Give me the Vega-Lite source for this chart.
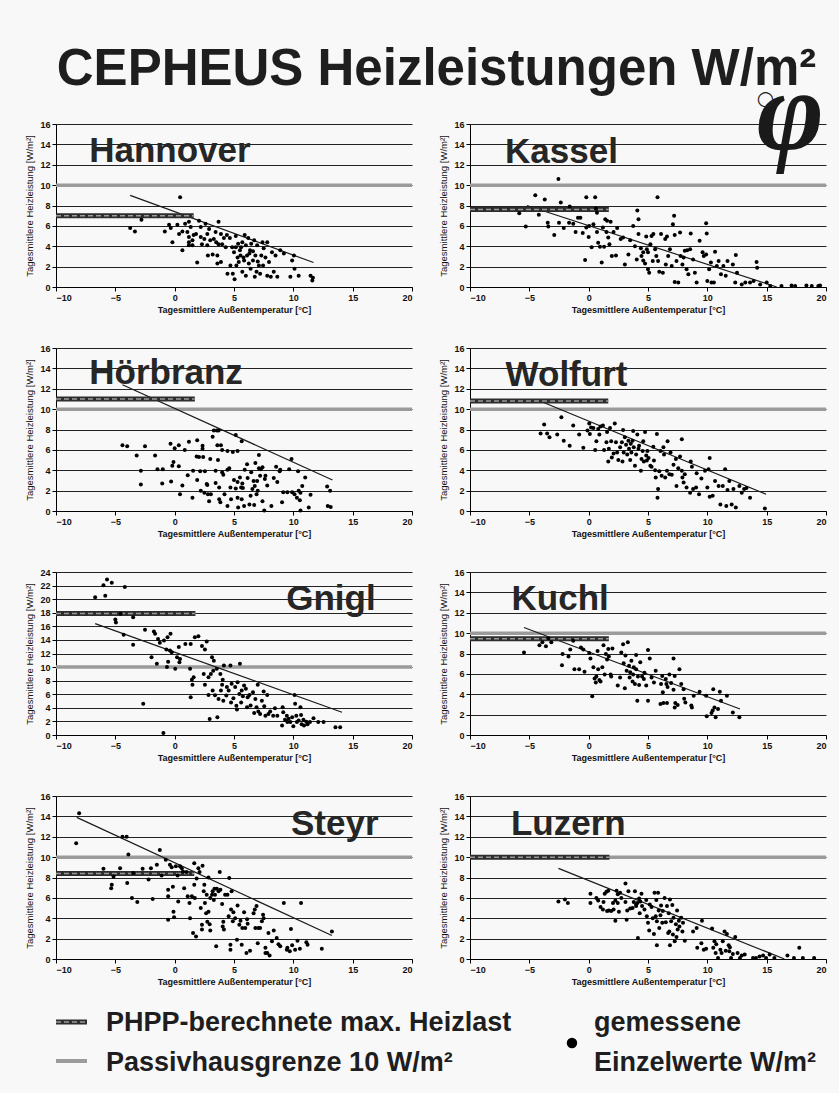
{
"$schema": "https://vega.github.io/schema/vega-lite/v6.json",
"background": "#f8f8f8",
"padding": {"left": 24, "top": 44, "right": 5, "bottom": 5},
"title": {"text": "CEPHEUS Heizleistungen W/m²", "fontSize": 51, "fontWeight": "bold", "font": "Liberation Sans", "anchor": "middle", "dx": 6, "color": "#1e1e1e", "offset": -38},
"config": {
  "font": "Liberation Sans",
  "view": {"stroke": null},
  "header": {"labels": false, "title": null},
  "axis": {"domainColor": "#000", "tickColor": "#000", "labelColor": "#111", "titleColor": "#111", "labelFontWeight": "bold", "labelFontSize": 9, "titleFontSize": 9, "tickSize": 4, "labelPadding": 2},
  "axisY": {"grid": true, "gridColor": "#222", "gridWidth": 1, "tickCount": 8, "titlePadding": 5, "titleFontWeight": "normal", "titleFontSize": 9.5},
  "axisX": {"grid": false, "titleFontWeight": "bold", "titlePadding": 3}
},
"datasets": {
"grid": [
{"s":"Hannover","r":1,"c":1},{"s":"Kassel","r":1,"c":2},{"s":"Hörbranz","r":2,"c":1},{"s":"Wolfurt","r":2,"c":2},
{"s":"Gnigl","r":3,"c":1},{"s":"Kuchl","r":3,"c":2},{"s":"Steyr","r":4,"c":1},{"s":"Luzern","r":4,"c":2}
],
"leg": [
{"k":"h","x":0,"x2":3.97,"y":66},{"k":"g","x":0,"x2":3.97,"y":27},{"k":"p","x":66.15,"y":45},
{"k":"t","x":6.41,"y":57,"n":"PHPP-berechnete max. Heizlast"},{"k":"t","x":6.41,"y":17,"n":"Passivhausgrenze 10 W/m²"},
{"k":"t","x":68.97,"y":57,"n":"gemessene"},{"k":"t","x":68.97,"y":17,"n":"Einzelwerte W/m²"}
],
"d": [
{"s":"Hannover","k":"d","t":0,"q":0},{"s":"Hannover","k":"d","t":0,"q":16},{"s":"Hannover","k":"g","q":10},
{"s":"Hannover","k":"r","t":-3.75,"q":9.0},{"s":"Hannover","k":"r","t":11.7,"q":2.4},
{"s":"Hannover","k":"h","t":-10,"t2":1.6,"q":7.0},
{"s":"Hannover","k":"l","t":-7.2,"q":12.25,"n":"Hannover"},
{"s":"Kassel","k":"d","t":0,"q":0},{"s":"Kassel","k":"d","t":0,"q":16},{"s":"Kassel","k":"g","q":10},
{"s":"Kassel","k":"r","t":-5.2,"q":8.0},{"s":"Kassel","k":"r","t":15.85,"q":0},
{"s":"Kassel","k":"h","t":-10,"t2":1.7,"q":7.6},
{"s":"Kassel","k":"l","t":-7.05,"q":12.2,"n":"Kassel"},
{"s":"Kassel","k":"f","t":17.0,"q":15.0,"n":"φ"},
{"s":"Kassel","k":"c","t":14.9,"q":15.0,"n":"○"},
{"s":"Hörbranz","k":"d","t":0,"q":0},{"s":"Hörbranz","k":"d","t":0,"q":16},{"s":"Hörbranz","k":"g","q":10},
{"s":"Hörbranz","k":"r","t":-4.4,"q":12.4},{"s":"Hörbranz","k":"r","t":13.3,"q":3.05},
{"s":"Hörbranz","k":"h","t":-10,"t2":1.7,"q":11.0},
{"s":"Hörbranz","k":"l","t":-7.2,"q":12.5,"n":"Hörbranz"},
{"s":"Wolfurt","k":"d","t":0,"q":0},{"s":"Wolfurt","k":"d","t":0,"q":16},{"s":"Wolfurt","k":"g","q":10},
{"s":"Wolfurt","k":"r","t":-3.9,"q":10.7},{"s":"Wolfurt","k":"r","t":14.95,"q":1.65},
{"s":"Wolfurt","k":"h","t":-10,"t2":1.65,"q":10.8},
{"s":"Wolfurt","k":"l","t":-7.0,"q":12.3,"n":"Wolfurt"},
{"s":"Gnigl","k":"d","t":0,"q":0},{"s":"Gnigl","k":"d","t":0,"q":24},{"s":"Gnigl","k":"g","q":10},
{"s":"Gnigl","k":"r","t":-6.7,"q":16.4},{"s":"Gnigl","k":"r","t":14.1,"q":3.35},
{"s":"Gnigl","k":"h","t":-10,"t2":1.75,"q":17.9},
{"s":"Gnigl","k":"l","t":9.4,"q":18.35,"n":"Gnigl"},
{"s":"Kuchl","k":"d","t":0,"q":0},{"s":"Kuchl","k":"d","t":0,"q":16},{"s":"Kuchl","k":"g","q":10},
{"s":"Kuchl","k":"r","t":-5.45,"q":10.55},{"s":"Kuchl","k":"r","t":12.75,"q":2.55},
{"s":"Kuchl","k":"h","t":-10,"t2":1.7,"q":9.45},
{"s":"Kuchl","k":"l","t":-6.5,"q":12.3,"n":"Kuchl"},
{"s":"Steyr","k":"d","t":0,"q":0},{"s":"Steyr","k":"d","t":0,"q":16},{"s":"Steyr","k":"g","q":10},
{"s":"Steyr","k":"r","t":-8.25,"q":13.9},{"s":"Steyr","k":"r","t":13.25,"q":2.3},
{"s":"Steyr","k":"h","t":-10,"t2":1.65,"q":8.4},
{"s":"Steyr","k":"l","t":9.8,"q":12.2,"n":"Steyr"},
{"s":"Luzern","k":"d","t":0,"q":0},{"s":"Luzern","k":"d","t":0,"q":16},{"s":"Luzern","k":"g","q":10},
{"s":"Luzern","k":"r","t":-2.55,"q":8.9},{"s":"Luzern","k":"r","t":16.5,"q":0},
{"s":"Luzern","k":"h","t":-10,"t2":1.75,"q":10.0},
{"s":"Luzern","k":"l","t":-6.55,"q":12.15,"n":"Luzern"},

{"s":"Hannover","k":"p","t":-3.75,"q":5.8},{"s":"Hannover","k":"p","t":-3.35,"q":5.45},{"s":"Hannover","k":"p","t":-2.8,"q":6.6},{"s":"Hannover","k":"p","t":-0.83,"q":5.45},{"s":"Hannover","k":"p","t":-0.47,"q":6.1},{"s":"Hannover","k":"p","t":-0.33,"q":5.8},{"s":"Hannover","k":"p","t":-0.19,"q":4.4},{"s":"Hannover","k":"p","t":0.46,"q":8.8},{"s":"Hannover","k":"p","t":0.23,"q":6.1},{"s":"Hannover","k":"p","t":0.37,"q":5.2},
{"s":"Hannover","k":"p","t":0.65,"q":5.45},{"s":"Hannover","k":"p","t":0.65,"q":3.6},{"s":"Hannover","k":"p","t":0.88,"q":6.2},{"s":"Hannover","k":"p","t":1.07,"q":5.4},{"s":"Hannover","k":"p","t":1.2,"q":6.4},{"s":"Hannover","k":"p","t":1.2,"q":4.9},{"s":"Hannover","k":"p","t":1.2,"q":4.4},{"s":"Hannover","k":"p","t":1.2,"q":4.1},{"s":"Hannover","k":"p","t":1.35,"q":5.9},{"s":"Hannover","k":"p","t":1.5,"q":4.6},
{"s":"Hannover","k":"p","t":1.5,"q":4.1},{"s":"Hannover","k":"p","t":1.6,"q":5.1},{"s":"Hannover","k":"p","t":1.9,"q":2.4},{"s":"Hannover","k":"p","t":1.8,"q":5.2},{"s":"Hannover","k":"p","t":2.05,"q":6.5},{"s":"Hannover","k":"p","t":2.2,"q":5.9},{"s":"Hannover","k":"p","t":2.2,"q":4.9},{"s":"Hannover","k":"p","t":2.3,"q":4.2},{"s":"Hannover","k":"p","t":2.6,"q":6.2},{"s":"Hannover","k":"p","t":2.5,"q":4.7},
{"s":"Hannover","k":"p","t":2.75,"q":4.1},{"s":"Hannover","k":"p","t":2.75,"q":5.2},{"s":"Hannover","k":"p","t":2.8,"q":3.1},{"s":"Hannover","k":"p","t":2.9,"q":5.7},{"s":"Hannover","k":"p","t":3.0,"q":4.6},{"s":"Hannover","k":"p","t":3.2,"q":3.2},{"s":"Hannover","k":"p","t":3.3,"q":4.7},{"s":"Hannover","k":"p","t":3.45,"q":5.4},{"s":"Hannover","k":"p","t":3.5,"q":4.4},{"s":"Hannover","k":"p","t":3.6,"q":3.1},
{"s":"Hannover","k":"p","t":3.6,"q":2.3},{"s":"Hannover","k":"p","t":3.7,"q":6.4},{"s":"Hannover","k":"p","t":3.7,"q":4.2},{"s":"Hannover","k":"p","t":3.9,"q":5.2},{"s":"Hannover","k":"p","t":3.9,"q":2.45},{"s":"Hannover","k":"p","t":4.0,"q":4.2},{"s":"Hannover","k":"p","t":4.15,"q":4.8},{"s":"Hannover","k":"p","t":4.4,"q":5.1},{"s":"Hannover","k":"p","t":4.45,"q":1.3},{"s":"Hannover","k":"p","t":4.65,"q":4.8},
{"s":"Hannover","k":"p","t":4.7,"q":2.1},{"s":"Hannover","k":"p","t":4.85,"q":3.9},{"s":"Hannover","k":"p","t":4.9,"q":1.3},{"s":"Hannover","k":"p","t":5.0,"q":3.4},{"s":"Hannover","k":"p","t":5.05,"q":0.75},{"s":"Hannover","k":"p","t":5.15,"q":5.0},{"s":"Hannover","k":"p","t":5.15,"q":3.9},{"s":"Hannover","k":"p","t":5.3,"q":2.9},{"s":"Hannover","k":"p","t":5.35,"q":4.25},{"s":"Hannover","k":"p","t":5.4,"q":2.45},
{"s":"Hannover","k":"p","t":5.5,"q":3.6},{"s":"Hannover","k":"p","t":5.55,"q":3.1},{"s":"Hannover","k":"p","t":5.7,"q":4.4},{"s":"Hannover","k":"p","t":5.7,"q":1.5},{"s":"Hannover","k":"p","t":5.85,"q":2.6},{"s":"Hannover","k":"p","t":5.9,"q":5.1},{"s":"Hannover","k":"p","t":6.0,"q":4.1},{"s":"Hannover","k":"p","t":6.0,"q":1.1},{"s":"Hannover","k":"p","t":6.1,"q":3.1},{"s":"Hannover","k":"p","t":6.2,"q":4.8},
{"s":"Hannover","k":"p","t":6.25,"q":2.3},{"s":"Hannover","k":"p","t":6.35,"q":3.6},{"s":"Hannover","k":"p","t":6.4,"q":1.8},{"s":"Hannover","k":"p","t":6.45,"q":4.25},{"s":"Hannover","k":"p","t":6.6,"q":2.6},{"s":"Hannover","k":"p","t":6.7,"q":4.6},{"s":"Hannover","k":"p","t":6.75,"q":1.0},{"s":"Hannover","k":"p","t":6.8,"q":3.1},{"s":"Hannover","k":"p","t":6.9,"q":1.5},{"s":"Hannover","k":"p","t":6.95,"q":4.1},
{"s":"Hannover","k":"p","t":7.1,"q":2.1},{"s":"Hannover","k":"p","t":7.2,"q":1.3},{"s":"Hannover","k":"p","t":7.3,"q":3.1},{"s":"Hannover","k":"p","t":7.4,"q":4.4},{"s":"Hannover","k":"p","t":7.45,"q":2.1},{"s":"Hannover","k":"p","t":7.5,"q":3.8},{"s":"Hannover","k":"p","t":7.65,"q":2.9},{"s":"Hannover","k":"p","t":7.8,"q":4.4},{"s":"Hannover","k":"p","t":7.8,"q":1.1},{"s":"Hannover","k":"p","t":7.95,"q":2.45},
{"s":"Hannover","k":"p","t":8.1,"q":1.0},{"s":"Hannover","k":"p","t":8.2,"q":3.4},{"s":"Hannover","k":"p","t":8.35,"q":1.5},{"s":"Hannover","k":"p","t":8.5,"q":3.1},{"s":"Hannover","k":"p","t":8.65,"q":1.0},{"s":"Hannover","k":"p","t":8.9,"q":3.6},{"s":"Hannover","k":"p","t":9.2,"q":3.3},{"s":"Hannover","k":"p","t":9.75,"q":1.0},{"s":"Hannover","k":"p","t":9.9,"q":2.6},{"s":"Hannover","k":"p","t":10.05,"q":3.1},
{"s":"Hannover","k":"p","t":10.1,"q":1.8},{"s":"Hannover","k":"p","t":10.45,"q":1.1},{"s":"Hannover","k":"p","t":11.45,"q":1.1},{"s":"Hannover","k":"p","t":11.6,"q":0.65},{"s":"Hannover","k":"p","t":11.65,"q":0.9},{"s":"Hannover","k":"p","t":5.6,"q":3.9},{"s":"Hannover","k":"p","t":6.3,"q":3.3},{"s":"Hannover","k":"p","t":5.2,"q":2.1},{"s":"Hannover","k":"p","t":4.3,"q":3.9},{"s":"Hannover","k":"p","t":6.6,"q":3.5},
{"s":"Hannover","k":"p","t":7.0,"q":2.5},{"s":"Hannover","k":"p","t":5.8,"q":2.9},

{"s":"Kassel","k":"p","t":-5.85,"q":7.25},{"s":"Kassel","k":"p","t":-5.3,"q":5.95},{"s":"Kassel","k":"p","t":-4.5,"q":9.0},{"s":"Kassel","k":"p","t":-4.2,"q":7.1},{"s":"Kassel","k":"p","t":-3.7,"q":8.6},{"s":"Kassel","k":"p","t":-3.45,"q":6.3},{"s":"Kassel","k":"p","t":-3.4,"q":5.95},{"s":"Kassel","k":"p","t":-2.9,"q":5.1},{"s":"Kassel","k":"p","t":-2.55,"q":10.6},{"s":"Kassel","k":"p","t":-2.5,"q":6.3},
{"s":"Kassel","k":"p","t":-2.35,"q":8.3},{"s":"Kassel","k":"p","t":-2.1,"q":5.8},{"s":"Kassel","k":"p","t":-1.6,"q":7.9},{"s":"Kassel","k":"p","t":-1.65,"q":6.3},{"s":"Kassel","k":"p","t":-1.3,"q":6.2},{"s":"Kassel","k":"p","t":-1.1,"q":5.4},{"s":"Kassel","k":"p","t":-0.9,"q":6.8},{"s":"Kassel","k":"p","t":-0.7,"q":6.8},{"s":"Kassel","k":"p","t":-0.5,"q":5.3},{"s":"Kassel","k":"p","t":-0.3,"q":2.65},
{"s":"Kassel","k":"p","t":-0.2,"q":8.8},{"s":"Kassel","k":"p","t":-0.2,"q":5.85},{"s":"Kassel","k":"p","t":0.0,"q":4.9},{"s":"Kassel","k":"p","t":0.05,"q":6.0},{"s":"Kassel","k":"p","t":0.25,"q":3.9},{"s":"Kassel","k":"p","t":0.4,"q":6.15},{"s":"Kassel","k":"p","t":0.55,"q":8.8},{"s":"Kassel","k":"p","t":0.6,"q":7.7},{"s":"Kassel","k":"p","t":0.7,"q":7.3},{"s":"Kassel","k":"p","t":0.7,"q":5.4},
{"s":"Kassel","k":"p","t":0.8,"q":4.35},{"s":"Kassel","k":"p","t":0.95,"q":3.95},{"s":"Kassel","k":"p","t":1.1,"q":2.4},{"s":"Kassel","k":"p","t":1.2,"q":5.85},{"s":"Kassel","k":"p","t":1.3,"q":3.95},{"s":"Kassel","k":"p","t":1.4,"q":6.65},{"s":"Kassel","k":"p","t":1.5,"q":5.4},{"s":"Kassel","k":"p","t":1.55,"q":6.5},{"s":"Kassel","k":"p","t":1.65,"q":4.85},{"s":"Kassel","k":"p","t":1.75,"q":4.2},
{"s":"Kassel","k":"p","t":1.85,"q":6.4},{"s":"Kassel","k":"p","t":1.95,"q":3.05},{"s":"Kassel","k":"p","t":2.1,"q":5.4},{"s":"Kassel","k":"p","t":2.3,"q":3.1},{"s":"Kassel","k":"p","t":2.4,"q":5.8},{"s":"Kassel","k":"p","t":2.7,"q":4.7},{"s":"Kassel","k":"p","t":2.9,"q":4.85},{"s":"Kassel","k":"p","t":3.05,"q":2.2},{"s":"Kassel","k":"p","t":3.35,"q":3.2},{"s":"Kassel","k":"p","t":3.5,"q":4.6},
{"s":"Kassel","k":"p","t":3.75,"q":6.0},{"s":"Kassel","k":"p","t":3.9,"q":4.0},{"s":"Kassel","k":"p","t":4.05,"q":2.7},{"s":"Kassel","k":"p","t":4.1,"q":7.5},{"s":"Kassel","k":"p","t":4.2,"q":6.65},{"s":"Kassel","k":"p","t":4.2,"q":5.2},{"s":"Kassel","k":"p","t":4.4,"q":3.8},{"s":"Kassel","k":"p","t":4.45,"q":3.05},{"s":"Kassel","k":"p","t":4.6,"q":3.4},{"s":"Kassel","k":"p","t":4.75,"q":2.3},
{"s":"Kassel","k":"p","t":4.85,"q":4.95},{"s":"Kassel","k":"p","t":4.9,"q":3.7},{"s":"Kassel","k":"p","t":5.0,"q":1.75},{"s":"Kassel","k":"p","t":5.1,"q":1.4},{"s":"Kassel","k":"p","t":5.2,"q":4.2},{"s":"Kassel","k":"p","t":5.3,"q":5.0},{"s":"Kassel","k":"p","t":5.4,"q":2.55},{"s":"Kassel","k":"p","t":5.45,"q":5.2},{"s":"Kassel","k":"p","t":5.6,"q":3.7},{"s":"Kassel","k":"p","t":5.7,"q":3.05},
{"s":"Kassel","k":"p","t":5.8,"q":8.8},{"s":"Kassel","k":"p","t":5.85,"q":2.55},{"s":"Kassel","k":"p","t":5.95,"q":1.5},{"s":"Kassel","k":"p","t":6.1,"q":5.2},{"s":"Kassel","k":"p","t":6.25,"q":1.4},{"s":"Kassel","k":"p","t":6.45,"q":4.7},{"s":"Kassel","k":"p","t":6.5,"q":2.2},{"s":"Kassel","k":"p","t":6.6,"q":4.95},{"s":"Kassel","k":"p","t":6.7,"q":3.05},{"s":"Kassel","k":"p","t":6.85,"q":3.7},
{"s":"Kassel","k":"p","t":7.0,"q":2.05},{"s":"Kassel","k":"p","t":7.1,"q":6.15},{"s":"Kassel","k":"p","t":7.2,"q":7.0},{"s":"Kassel","k":"p","t":7.25,"q":5.1},{"s":"Kassel","k":"p","t":7.25,"q":0.5},{"s":"Kassel","k":"p","t":7.4,"q":2.55},{"s":"Kassel","k":"p","t":7.55,"q":0.45},{"s":"Kassel","k":"p","t":7.7,"q":5.35},{"s":"Kassel","k":"p","t":7.75,"q":3.05},{"s":"Kassel","k":"p","t":7.9,"q":2.2},
{"s":"Kassel","k":"p","t":8.1,"q":3.55},{"s":"Kassel","k":"p","t":8.25,"q":1.75},{"s":"Kassel","k":"p","t":8.4,"q":1.25},{"s":"Kassel","k":"p","t":8.55,"q":3.7},{"s":"Kassel","k":"p","t":8.6,"q":5.25},{"s":"Kassel","k":"p","t":8.8,"q":2.7},{"s":"Kassel","k":"p","t":8.95,"q":1.4},{"s":"Kassel","k":"p","t":9.1,"q":0.45},{"s":"Kassel","k":"p","t":9.35,"q":4.55},{"s":"Kassel","k":"p","t":9.6,"q":3.4},
{"s":"Kassel","k":"p","t":9.7,"q":3.05},{"s":"Kassel","k":"p","t":9.9,"q":6.25},{"s":"Kassel","k":"p","t":9.95,"q":5.25},{"s":"Kassel","k":"p","t":10.0,"q":0.6},{"s":"Kassel","k":"p","t":10.15,"q":1.75},{"s":"Kassel","k":"p","t":10.3,"q":2.4},{"s":"Kassel","k":"p","t":10.35,"q":0.45},{"s":"Kassel","k":"p","t":10.55,"q":0.45},{"s":"Kassel","k":"p","t":10.65,"q":3.45},{"s":"Kassel","k":"p","t":10.8,"q":2.05},
{"s":"Kassel","k":"p","t":10.95,"q":2.55},{"s":"Kassel","k":"p","t":11.15,"q":1.25},{"s":"Kassel","k":"p","t":11.35,"q":2.05},{"s":"Kassel","k":"p","t":11.55,"q":1.1},{"s":"Kassel","k":"p","t":11.7,"q":2.55},{"s":"Kassel","k":"p","t":12.15,"q":2.2},{"s":"Kassel","k":"p","t":12.35,"q":0.45},{"s":"Kassel","k":"p","t":12.4,"q":3.15},{"s":"Kassel","k":"p","t":12.5,"q":1.4},{"s":"Kassel","k":"p","t":12.9,"q":0.25},
{"s":"Kassel","k":"p","t":13.2,"q":0.45},{"s":"Kassel","k":"p","t":13.6,"q":0.45},{"s":"Kassel","k":"p","t":13.9,"q":0.6},{"s":"Kassel","k":"p","t":14.15,"q":2.45},{"s":"Kassel","k":"p","t":14.2,"q":1.9},{"s":"Kassel","k":"p","t":14.45,"q":0.25},{"s":"Kassel","k":"p","t":15.0,"q":0.45},{"s":"Kassel","k":"p","t":15.3,"q":0.1},{"s":"Kassel","k":"p","t":16.25,"q":0.1},{"s":"Kassel","k":"p","t":17.1,"q":0.15},
{"s":"Kassel","k":"p","t":17.4,"q":0.1},{"s":"Kassel","k":"p","t":18.35,"q":0.15},{"s":"Kassel","k":"p","t":18.8,"q":0.1},{"s":"Kassel","k":"p","t":19.35,"q":0.1},{"s":"Kassel","k":"p","t":19.5,"q":0.15},{"s":"Kassel","k":"p","t":8.3,"q":3.6},{"s":"Kassel","k":"p","t":8.0,"q":2.9},{"s":"Kassel","k":"p","t":4.6,"q":2.6},{"s":"Kassel","k":"p","t":5.0,"q":3.4},{"s":"Kassel","k":"p","t":9.9,"q":3.2},

{"s":"Hörbranz","k":"p","t":-4.4,"q":6.45},{"s":"Hörbranz","k":"p","t":-4.0,"q":6.35},{"s":"Hörbranz","k":"p","t":-3.2,"q":5.45},{"s":"Hörbranz","k":"p","t":-2.85,"q":3.95},{"s":"Hörbranz","k":"p","t":-2.85,"q":2.6},{"s":"Hörbranz","k":"p","t":-2.5,"q":6.35},{"s":"Hörbranz","k":"p","t":-1.65,"q":5.45},{"s":"Hörbranz","k":"p","t":-1.45,"q":4.1},{"s":"Hörbranz","k":"p","t":-1.0,"q":4.1},{"s":"Hörbranz","k":"p","t":-1.05,"q":2.7},
{"s":"Hörbranz","k":"p","t":-0.35,"q":6.6},{"s":"Hörbranz","k":"p","t":-0.3,"q":2.9},{"s":"Hörbranz","k":"p","t":-0.2,"q":4.45},{"s":"Hörbranz","k":"p","t":-0.1,"q":4.8},{"s":"Hörbranz","k":"p","t":0.0,"q":6.15},{"s":"Hörbranz","k":"p","t":0.35,"q":6.45},{"s":"Hörbranz","k":"p","t":0.35,"q":4.4},{"s":"Hörbranz","k":"p","t":0.45,"q":1.65},{"s":"Hörbranz","k":"p","t":0.65,"q":2.5},{"s":"Hörbranz","k":"p","t":0.85,"q":6.0},
{"s":"Hörbranz","k":"p","t":1.1,"q":3.5},{"s":"Hörbranz","k":"p","t":1.2,"q":6.8},{"s":"Hörbranz","k":"p","t":1.5,"q":1.3},{"s":"Hörbranz","k":"p","t":1.55,"q":3.95},{"s":"Hörbranz","k":"p","t":1.85,"q":5.35},{"s":"Hörbranz","k":"p","t":1.9,"q":6.95},{"s":"Hörbranz","k":"p","t":1.9,"q":3.05},{"s":"Hörbranz","k":"p","t":2.05,"q":5.3},{"s":"Hörbranz","k":"p","t":2.15,"q":3.9},{"s":"Hörbranz","k":"p","t":2.2,"q":2.0},
{"s":"Hörbranz","k":"p","t":2.35,"q":6.4},{"s":"Hörbranz","k":"p","t":2.35,"q":6.1},{"s":"Hörbranz","k":"p","t":2.4,"q":5.3},{"s":"Hörbranz","k":"p","t":2.5,"q":1.8},{"s":"Hörbranz","k":"p","t":2.55,"q":3.9},{"s":"Hörbranz","k":"p","t":2.7,"q":2.65},{"s":"Hörbranz","k":"p","t":2.75,"q":2.55},{"s":"Hörbranz","k":"p","t":2.8,"q":1.65},{"s":"Hörbranz","k":"p","t":2.9,"q":0.95},{"s":"Hörbranz","k":"p","t":3.0,"q":5.1},
{"s":"Hörbranz","k":"p","t":3.05,"q":1.65},{"s":"Hörbranz","k":"p","t":3.2,"q":7.3},{"s":"Hörbranz","k":"p","t":3.3,"q":7.9},{"s":"Hörbranz","k":"p","t":3.45,"q":3.95},{"s":"Hörbranz","k":"p","t":3.45,"q":2.75},{"s":"Hörbranz","k":"p","t":3.55,"q":7.9},{"s":"Hörbranz","k":"p","t":3.6,"q":6.45},{"s":"Hörbranz","k":"p","t":3.65,"q":5.0},{"s":"Hörbranz","k":"p","t":3.7,"q":7.9},{"s":"Hörbranz","k":"p","t":3.75,"q":2.3},
{"s":"Hörbranz","k":"p","t":3.75,"q":1.15},{"s":"Hörbranz","k":"p","t":3.85,"q":0.85},{"s":"Hörbranz","k":"p","t":3.9,"q":6.45},{"s":"Hörbranz","k":"p","t":4.0,"q":3.8},{"s":"Hörbranz","k":"p","t":4.0,"q":6.0},{"s":"Hörbranz","k":"p","t":4.1,"q":3.55},{"s":"Hörbranz","k":"p","t":4.2,"q":1.65},{"s":"Hörbranz","k":"p","t":4.45,"q":4.05},{"s":"Hörbranz","k":"p","t":4.45,"q":5.9},{"s":"Hörbranz","k":"p","t":4.45,"q":0.5},
{"s":"Hörbranz","k":"p","t":4.6,"q":4.2},{"s":"Hörbranz","k":"p","t":4.7,"q":2.3},{"s":"Hörbranz","k":"p","t":4.75,"q":1.15},{"s":"Hörbranz","k":"p","t":4.9,"q":5.8},{"s":"Hörbranz","k":"p","t":5.0,"q":3.05},{"s":"Hörbranz","k":"p","t":5.15,"q":7.45},{"s":"Hörbranz","k":"p","t":5.15,"q":2.2},{"s":"Hörbranz","k":"p","t":5.3,"q":2.85},{"s":"Hörbranz","k":"p","t":5.3,"q":1.3},{"s":"Hörbranz","k":"p","t":5.3,"q":5.9},
{"s":"Hörbranz","k":"p","t":5.35,"q":0.35},{"s":"Hörbranz","k":"p","t":5.5,"q":3.3},{"s":"Hörbranz","k":"p","t":5.6,"q":2.3},{"s":"Hörbranz","k":"p","t":5.65,"q":1.15},{"s":"Hörbranz","k":"p","t":5.65,"q":6.85},{"s":"Hörbranz","k":"p","t":5.7,"q":2.7},{"s":"Hörbranz","k":"p","t":5.75,"q":2.25},{"s":"Hörbranz","k":"p","t":5.85,"q":0.5},{"s":"Hörbranz","k":"p","t":5.9,"q":4.05},{"s":"Hörbranz","k":"p","t":6.1,"q":4.6},
{"s":"Hörbranz","k":"p","t":6.15,"q":3.25},{"s":"Hörbranz","k":"p","t":6.3,"q":0.65},{"s":"Hörbranz","k":"p","t":6.4,"q":1.5},{"s":"Hörbranz","k":"p","t":6.45,"q":3.8},{"s":"Hörbranz","k":"p","t":6.55,"q":2.15},{"s":"Hörbranz","k":"p","t":6.65,"q":2.95},{"s":"Hörbranz","k":"p","t":6.7,"q":0.6},{"s":"Hörbranz","k":"p","t":6.75,"q":2.45},{"s":"Hörbranz","k":"p","t":6.8,"q":4.7},{"s":"Hörbranz","k":"p","t":6.9,"q":1.65},
{"s":"Hörbranz","k":"p","t":6.95,"q":2.95},{"s":"Hörbranz","k":"p","t":7.0,"q":2.0},{"s":"Hörbranz","k":"p","t":7.1,"q":5.5},{"s":"Hörbranz","k":"p","t":7.1,"q":4.2},{"s":"Hörbranz","k":"p","t":7.2,"q":3.45},{"s":"Hörbranz","k":"p","t":7.25,"q":4.1},{"s":"Hörbranz","k":"p","t":7.4,"q":4.3},{"s":"Hörbranz","k":"p","t":7.4,"q":0.95},{"s":"Hörbranz","k":"p","t":7.55,"q":0.05},{"s":"Hörbranz","k":"p","t":7.6,"q":3.15},
{"s":"Hörbranz","k":"p","t":7.65,"q":3.45},{"s":"Hörbranz","k":"p","t":7.8,"q":2.5},{"s":"Hörbranz","k":"p","t":8.15,"q":0.5},{"s":"Hörbranz","k":"p","t":8.35,"q":3.25},{"s":"Hörbranz","k":"p","t":8.55,"q":4.35},{"s":"Hörbranz","k":"p","t":8.65,"q":2.85},{"s":"Hörbranz","k":"p","t":8.85,"q":3.9},{"s":"Hörbranz","k":"p","t":8.9,"q":4.05},{"s":"Hörbranz","k":"p","t":9.05,"q":0.85},{"s":"Hörbranz","k":"p","t":9.15,"q":1.85},
{"s":"Hörbranz","k":"p","t":9.5,"q":1.85},{"s":"Hörbranz","k":"p","t":9.65,"q":4.1},{"s":"Hörbranz","k":"p","t":9.85,"q":5.1},{"s":"Hörbranz","k":"p","t":9.9,"q":1.85},{"s":"Hörbranz","k":"p","t":10.1,"q":1.65},{"s":"Hörbranz","k":"p","t":10.3,"q":1.3},{"s":"Hörbranz","k":"p","t":10.4,"q":3.9},{"s":"Hörbranz","k":"p","t":10.45,"q":2.0},{"s":"Hörbranz","k":"p","t":10.55,"q":1.05},{"s":"Hörbranz","k":"p","t":10.6,"q":1.8},
{"s":"Hörbranz","k":"p","t":10.6,"q":0.05},{"s":"Hörbranz","k":"p","t":10.75,"q":2.45},{"s":"Hörbranz","k":"p","t":11.0,"q":3.3},{"s":"Hörbranz","k":"p","t":11.3,"q":0.35},{"s":"Hörbranz","k":"p","t":11.45,"q":1.6},{"s":"Hörbranz","k":"p","t":12.85,"q":2.4},{"s":"Hörbranz","k":"p","t":12.9,"q":0.5},{"s":"Hörbranz","k":"p","t":13.1,"q":2.0},{"s":"Hörbranz","k":"p","t":13.15,"q":0.4},

{"s":"Wolfurt","k":"p","t":-4.05,"q":7.6},{"s":"Wolfurt","k":"p","t":-3.75,"q":8.5},{"s":"Wolfurt","k":"p","t":-3.5,"q":7.6},{"s":"Wolfurt","k":"p","t":-3.3,"q":7.25},{"s":"Wolfurt","k":"p","t":-2.65,"q":7.5},{"s":"Wolfurt","k":"p","t":-2.3,"q":9.2},{"s":"Wolfurt","k":"p","t":-2.1,"q":6.9},{"s":"Wolfurt","k":"p","t":-1.6,"q":6.4},{"s":"Wolfurt","k":"p","t":-1.3,"q":8.4},{"s":"Wolfurt","k":"p","t":-0.8,"q":7.5},
{"s":"Wolfurt","k":"p","t":-0.45,"q":6.2},{"s":"Wolfurt","k":"p","t":-0.1,"q":7.9},{"s":"Wolfurt","k":"p","t":0.05,"q":8.6},{"s":"Wolfurt","k":"p","t":0.1,"q":7.55},{"s":"Wolfurt","k":"p","t":0.2,"q":8.2},{"s":"Wolfurt","k":"p","t":0.4,"q":8.15},{"s":"Wolfurt","k":"p","t":0.55,"q":6.0},{"s":"Wolfurt","k":"p","t":0.65,"q":6.85},{"s":"Wolfurt","k":"p","t":0.8,"q":8.05},{"s":"Wolfurt","k":"p","t":0.9,"q":7.5},
{"s":"Wolfurt","k":"p","t":1.0,"q":8.3},{"s":"Wolfurt","k":"p","t":1.2,"q":8.4},{"s":"Wolfurt","k":"p","t":1.3,"q":6.0},{"s":"Wolfurt","k":"p","t":1.5,"q":6.75},{"s":"Wolfurt","k":"p","t":1.55,"q":7.75},{"s":"Wolfurt","k":"p","t":1.65,"q":4.85},{"s":"Wolfurt","k":"p","t":1.7,"q":6.1},{"s":"Wolfurt","k":"p","t":1.8,"q":8.15},{"s":"Wolfurt","k":"p","t":1.9,"q":6.85},{"s":"Wolfurt","k":"p","t":1.95,"q":5.25},
{"s":"Wolfurt","k":"p","t":2.1,"q":5.65},{"s":"Wolfurt","k":"p","t":2.2,"q":8.6},{"s":"Wolfurt","k":"p","t":2.3,"q":6.75},{"s":"Wolfurt","k":"p","t":2.4,"q":5.75},{"s":"Wolfurt","k":"p","t":2.5,"q":5.0},{"s":"Wolfurt","k":"p","t":2.65,"q":6.25},{"s":"Wolfurt","k":"p","t":2.8,"q":6.75},{"s":"Wolfurt","k":"p","t":2.85,"q":4.85},{"s":"Wolfurt","k":"p","t":2.9,"q":7.95},{"s":"Wolfurt","k":"p","t":2.95,"q":5.75},
{"s":"Wolfurt","k":"p","t":3.05,"q":7.25},{"s":"Wolfurt","k":"p","t":3.15,"q":6.5},{"s":"Wolfurt","k":"p","t":3.25,"q":5.55},{"s":"Wolfurt","k":"p","t":3.35,"q":6.9},{"s":"Wolfurt","k":"p","t":3.4,"q":6.1},{"s":"Wolfurt","k":"p","t":3.5,"q":5.0},{"s":"Wolfurt","k":"p","t":3.55,"q":6.6},{"s":"Wolfurt","k":"p","t":3.6,"q":5.75},{"s":"Wolfurt","k":"p","t":3.7,"q":6.9},{"s":"Wolfurt","k":"p","t":3.75,"q":7.85},
{"s":"Wolfurt","k":"p","t":3.8,"q":6.25},{"s":"Wolfurt","k":"p","t":3.9,"q":4.45},{"s":"Wolfurt","k":"p","t":4.0,"q":5.55},{"s":"Wolfurt","k":"p","t":4.1,"q":7.5},{"s":"Wolfurt","k":"p","t":4.2,"q":6.1},{"s":"Wolfurt","k":"p","t":4.25,"q":6.4},{"s":"Wolfurt","k":"p","t":4.4,"q":3.95},{"s":"Wolfurt","k":"p","t":4.45,"q":5.1},{"s":"Wolfurt","k":"p","t":4.55,"q":5.9},{"s":"Wolfurt","k":"p","t":4.6,"q":6.85},
{"s":"Wolfurt","k":"p","t":4.65,"q":4.85},{"s":"Wolfurt","k":"p","t":4.75,"q":7.75},{"s":"Wolfurt","k":"p","t":4.85,"q":5.45},{"s":"Wolfurt","k":"p","t":4.9,"q":4.95},{"s":"Wolfurt","k":"p","t":4.95,"q":5.9},{"s":"Wolfurt","k":"p","t":5.05,"q":5.2},{"s":"Wolfurt","k":"p","t":5.2,"q":4.45},{"s":"Wolfurt","k":"p","t":5.3,"q":4.35},{"s":"Wolfurt","k":"p","t":5.45,"q":6.3},{"s":"Wolfurt","k":"p","t":5.5,"q":4.95},
{"s":"Wolfurt","k":"p","t":5.6,"q":4.0},{"s":"Wolfurt","k":"p","t":5.65,"q":3.3},{"s":"Wolfurt","k":"p","t":5.75,"q":7.55},{"s":"Wolfurt","k":"p","t":5.8,"q":1.3},{"s":"Wolfurt","k":"p","t":5.85,"q":2.15},{"s":"Wolfurt","k":"p","t":5.95,"q":3.9},{"s":"Wolfurt","k":"p","t":6.05,"q":5.9},{"s":"Wolfurt","k":"p","t":6.15,"q":3.45},{"s":"Wolfurt","k":"p","t":6.3,"q":6.25},{"s":"Wolfurt","k":"p","t":6.35,"q":5.55},
{"s":"Wolfurt","k":"p","t":6.45,"q":3.3},{"s":"Wolfurt","k":"p","t":6.6,"q":3.95},{"s":"Wolfurt","k":"p","t":6.65,"q":6.85},{"s":"Wolfurt","k":"p","t":6.8,"q":3.6},{"s":"Wolfurt","k":"p","t":6.9,"q":5.75},{"s":"Wolfurt","k":"p","t":7.0,"q":3.55},{"s":"Wolfurt","k":"p","t":7.15,"q":4.55},{"s":"Wolfurt","k":"p","t":7.35,"q":5.1},{"s":"Wolfurt","k":"p","t":7.4,"q":2.45},{"s":"Wolfurt","k":"p","t":7.55,"q":4.2},
{"s":"Wolfurt","k":"p","t":7.7,"q":5.35},{"s":"Wolfurt","k":"p","t":7.85,"q":7.05},{"s":"Wolfurt","k":"p","t":7.85,"q":3.95},{"s":"Wolfurt","k":"p","t":7.9,"q":3.3},{"s":"Wolfurt","k":"p","t":8.0,"q":2.8},{"s":"Wolfurt","k":"p","t":8.1,"q":3.6},{"s":"Wolfurt","k":"p","t":8.25,"q":2.3},{"s":"Wolfurt","k":"p","t":8.55,"q":1.8},{"s":"Wolfurt","k":"p","t":8.6,"q":4.85},{"s":"Wolfurt","k":"p","t":8.7,"q":4.35},
{"s":"Wolfurt","k":"p","t":8.8,"q":2.15},{"s":"Wolfurt","k":"p","t":9.05,"q":2.3},{"s":"Wolfurt","k":"p","t":9.1,"q":3.7},{"s":"Wolfurt","k":"p","t":9.3,"q":1.65},{"s":"Wolfurt","k":"p","t":9.5,"q":3.2},{"s":"Wolfurt","k":"p","t":9.8,"q":3.95},{"s":"Wolfurt","k":"p","t":10.0,"q":2.3},{"s":"Wolfurt","k":"p","t":10.1,"q":4.1},{"s":"Wolfurt","k":"p","t":10.2,"q":1.4},{"s":"Wolfurt","k":"p","t":10.2,"q":5.2},
{"s":"Wolfurt","k":"p","t":10.45,"q":1.5},{"s":"Wolfurt","k":"p","t":10.65,"q":2.95},{"s":"Wolfurt","k":"p","t":10.95,"q":2.45},{"s":"Wolfurt","k":"p","t":11.1,"q":0.65},{"s":"Wolfurt","k":"p","t":11.3,"q":2.45},{"s":"Wolfurt","k":"p","t":11.5,"q":4.1},{"s":"Wolfurt","k":"p","t":11.6,"q":0.5},{"s":"Wolfurt","k":"p","t":11.7,"q":2.05},{"s":"Wolfurt","k":"p","t":11.85,"q":2.95},{"s":"Wolfurt","k":"p","t":12.05,"q":0.65},
{"s":"Wolfurt","k":"p","t":12.2,"q":2.15},{"s":"Wolfurt","k":"p","t":12.4,"q":0.35},{"s":"Wolfurt","k":"p","t":12.7,"q":2.45},{"s":"Wolfurt","k":"p","t":12.9,"q":1.8},{"s":"Wolfurt","k":"p","t":13.1,"q":2.15},{"s":"Wolfurt","k":"p","t":13.3,"q":2.25},{"s":"Wolfurt","k":"p","t":13.6,"q":1.3},{"s":"Wolfurt","k":"p","t":14.85,"q":0.25},

{"s":"Gnigl","k":"p","t":-6.7,"q":20.3},{"s":"Gnigl","k":"p","t":-6.0,"q":22.05},{"s":"Gnigl","k":"p","t":-5.85,"q":20.5},{"s":"Gnigl","k":"p","t":-5.7,"q":22.9},{"s":"Gnigl","k":"p","t":-5.3,"q":22.4},{"s":"Gnigl","k":"p","t":-5.0,"q":17.0},{"s":"Gnigl","k":"p","t":-4.95,"q":16.55},{"s":"Gnigl","k":"p","t":-4.55,"q":17.85},{"s":"Gnigl","k":"p","t":-4.3,"q":14.75},{"s":"Gnigl","k":"p","t":-4.2,"q":21.8},
{"s":"Gnigl","k":"p","t":-3.5,"q":17.35},{"s":"Gnigl","k":"p","t":-3.5,"q":13.3},{"s":"Gnigl","k":"p","t":-2.65,"q":4.6},{"s":"Gnigl","k":"p","t":-2.5,"q":15.5},{"s":"Gnigl","k":"p","t":-1.95,"q":11.45},{"s":"Gnigl","k":"p","t":-1.75,"q":15.25},{"s":"Gnigl","k":"p","t":-1.65,"q":14.9},{"s":"Gnigl","k":"p","t":-1.5,"q":10.5},{"s":"Gnigl","k":"p","t":-1.4,"q":14.15},{"s":"Gnigl","k":"p","t":-1.25,"q":13.6},
{"s":"Gnigl","k":"p","t":-0.95,"q":0.3},{"s":"Gnigl","k":"p","t":-0.9,"q":13.9},{"s":"Gnigl","k":"p","t":-0.7,"q":12.6},{"s":"Gnigl","k":"p","t":-0.65,"q":10.0},{"s":"Gnigl","k":"p","t":-0.6,"q":14.4},{"s":"Gnigl","k":"p","t":-0.55,"q":10.8},{"s":"Gnigl","k":"p","t":-0.4,"q":12.45},{"s":"Gnigl","k":"p","t":-0.35,"q":14.9},{"s":"Gnigl","k":"p","t":-0.25,"q":12.2},{"s":"Gnigl","k":"p","t":0.05,"q":9.75},
{"s":"Gnigl","k":"p","t":0.2,"q":11.45},{"s":"Gnigl","k":"p","t":0.35,"q":12.95},{"s":"Gnigl","k":"p","t":0.4,"q":10.7},{"s":"Gnigl","k":"p","t":0.45,"q":11.2},{"s":"Gnigl","k":"p","t":0.9,"q":13.4},{"s":"Gnigl","k":"p","t":1.3,"q":9.75},{"s":"Gnigl","k":"p","t":1.35,"q":13.4},{"s":"Gnigl","k":"p","t":1.35,"q":5.55},{"s":"Gnigl","k":"p","t":1.45,"q":8.15},{"s":"Gnigl","k":"p","t":1.5,"q":7.4},
{"s":"Gnigl","k":"p","t":1.6,"q":8.5},{"s":"Gnigl","k":"p","t":1.7,"q":14.4},{"s":"Gnigl","k":"p","t":2.0,"q":14.55},{"s":"Gnigl","k":"p","t":2.3,"q":13.1},{"s":"Gnigl","k":"p","t":2.45,"q":9.0},{"s":"Gnigl","k":"p","t":2.55,"q":12.6},{"s":"Gnigl","k":"p","t":2.55,"q":7.4},{"s":"Gnigl","k":"p","t":2.7,"q":13.75},{"s":"Gnigl","k":"p","t":2.85,"q":8.5},{"s":"Gnigl","k":"p","t":2.85,"q":5.9},
{"s":"Gnigl","k":"p","t":2.95,"q":2.35},{"s":"Gnigl","k":"p","t":3.05,"q":9.0},{"s":"Gnigl","k":"p","t":3.15,"q":11.45},{"s":"Gnigl","k":"p","t":3.2,"q":6.55},{"s":"Gnigl","k":"p","t":3.25,"q":9.45},{"s":"Gnigl","k":"p","t":3.3,"q":10.95},{"s":"Gnigl","k":"p","t":3.4,"q":5.85},{"s":"Gnigl","k":"p","t":3.55,"q":9.75},{"s":"Gnigl","k":"p","t":3.6,"q":2.6},{"s":"Gnigl","k":"p","t":3.7,"q":5.3},
{"s":"Gnigl","k":"p","t":3.85,"q":9.0},{"s":"Gnigl","k":"p","t":3.9,"q":6.55},{"s":"Gnigl","k":"p","t":4.0,"q":7.4},{"s":"Gnigl","k":"p","t":4.05,"q":8.15},{"s":"Gnigl","k":"p","t":4.1,"q":5.05},{"s":"Gnigl","k":"p","t":4.15,"q":10.25},{"s":"Gnigl","k":"p","t":4.35,"q":5.8},{"s":"Gnigl","k":"p","t":4.4,"q":7.05},{"s":"Gnigl","k":"p","t":4.55,"q":6.55},{"s":"Gnigl","k":"p","t":4.7,"q":10.25},
{"s":"Gnigl","k":"p","t":4.75,"q":4.8},{"s":"Gnigl","k":"p","t":4.8,"q":7.55},{"s":"Gnigl","k":"p","t":4.95,"q":5.4},{"s":"Gnigl","k":"p","t":5.1,"q":7.05},{"s":"Gnigl","k":"p","t":5.2,"q":4.3},{"s":"Gnigl","k":"p","t":5.25,"q":3.75},{"s":"Gnigl","k":"p","t":5.3,"q":7.75},{"s":"Gnigl","k":"p","t":5.45,"q":6.05},{"s":"Gnigl","k":"p","t":5.5,"q":10.5},{"s":"Gnigl","k":"p","t":5.6,"q":4.8},
{"s":"Gnigl","k":"p","t":5.65,"q":6.55},{"s":"Gnigl","k":"p","t":5.75,"q":5.7},{"s":"Gnigl","k":"p","t":5.85,"q":7.3},{"s":"Gnigl","k":"p","t":6.0,"q":6.8},{"s":"Gnigl","k":"p","t":6.1,"q":4.1},{"s":"Gnigl","k":"p","t":6.15,"q":5.55},{"s":"Gnigl","k":"p","t":6.3,"q":5.9},{"s":"Gnigl","k":"p","t":6.4,"q":4.35},{"s":"Gnigl","k":"p","t":6.6,"q":6.3},{"s":"Gnigl","k":"p","t":6.7,"q":3.25},
{"s":"Gnigl","k":"p","t":6.8,"q":5.3},{"s":"Gnigl","k":"p","t":6.9,"q":4.1},{"s":"Gnigl","k":"p","t":7.0,"q":7.4},{"s":"Gnigl","k":"p","t":7.05,"q":3.45},{"s":"Gnigl","k":"p","t":7.2,"q":3.1},{"s":"Gnigl","k":"p","t":7.35,"q":5.05},{"s":"Gnigl","k":"p","t":7.5,"q":6.4},{"s":"Gnigl","k":"p","t":7.55,"q":4.25},{"s":"Gnigl","k":"p","t":7.65,"q":2.85},{"s":"Gnigl","k":"p","t":7.8,"q":5.9},
{"s":"Gnigl","k":"p","t":7.9,"q":3.1},{"s":"Gnigl","k":"p","t":8.05,"q":3.45},{"s":"Gnigl","k":"p","t":8.3,"q":2.85},{"s":"Gnigl","k":"p","t":8.45,"q":3.95},{"s":"Gnigl","k":"p","t":8.65,"q":2.85},{"s":"Gnigl","k":"p","t":9.05,"q":1.4},{"s":"Gnigl","k":"p","t":9.1,"q":4.1},{"s":"Gnigl","k":"p","t":9.15,"q":3.35},{"s":"Gnigl","k":"p","t":9.3,"q":2.25},{"s":"Gnigl","k":"p","t":9.45,"q":2.85},
{"s":"Gnigl","k":"p","t":9.5,"q":1.9},{"s":"Gnigl","k":"p","t":9.6,"q":2.4},{"s":"Gnigl","k":"p","t":9.75,"q":1.9},{"s":"Gnigl","k":"p","t":9.9,"q":2.6},{"s":"Gnigl","k":"p","t":10.0,"q":1.3},{"s":"Gnigl","k":"p","t":10.1,"q":5.9},{"s":"Gnigl","k":"p","t":10.15,"q":4.6},{"s":"Gnigl","k":"p","t":10.25,"q":2.85},{"s":"Gnigl","k":"p","t":10.3,"q":1.9},{"s":"Gnigl","k":"p","t":10.45,"q":2.15},
{"s":"Gnigl","k":"p","t":10.6,"q":4.1},{"s":"Gnigl","k":"p","t":10.65,"q":2.95},{"s":"Gnigl","k":"p","t":10.7,"q":1.6},{"s":"Gnigl","k":"p","t":10.85,"q":2.25},{"s":"Gnigl","k":"p","t":10.9,"q":1.4},{"s":"Gnigl","k":"p","t":11.1,"q":1.95},{"s":"Gnigl","k":"p","t":11.2,"q":1.6},{"s":"Gnigl","k":"p","t":11.4,"q":1.9},{"s":"Gnigl","k":"p","t":11.7,"q":2.45},{"s":"Gnigl","k":"p","t":12.1,"q":1.9},
{"s":"Gnigl","k":"p","t":12.55,"q":1.9},{"s":"Gnigl","k":"p","t":13.55,"q":1.15},{"s":"Gnigl","k":"p","t":13.95,"q":1.15},

{"s":"Kuchl","k":"p","t":-5.45,"q":8.1},{"s":"Kuchl","k":"p","t":-4.15,"q":8.8},{"s":"Kuchl","k":"p","t":-3.9,"q":9.1},{"s":"Kuchl","k":"p","t":-3.6,"q":8.7},{"s":"Kuchl","k":"p","t":-3.4,"q":9.5},{"s":"Kuchl","k":"p","t":-3.15,"q":9.1},{"s":"Kuchl","k":"p","t":-2.2,"q":7.95},{"s":"Kuchl","k":"p","t":-2.25,"q":6.85},{"s":"Kuchl","k":"p","t":-1.7,"q":7.7},{"s":"Kuchl","k":"p","t":-1.55,"q":8.4},
{"s":"Kuchl","k":"p","t":-1.3,"q":9.25},{"s":"Kuchl","k":"p","t":-1.2,"q":6.45},{"s":"Kuchl","k":"p","t":-0.8,"q":6.45},{"s":"Kuchl","k":"p","t":-0.65,"q":8.6},{"s":"Kuchl","k":"p","t":-0.45,"q":8.4},{"s":"Kuchl","k":"p","t":-0.35,"q":6.2},{"s":"Kuchl","k":"p","t":0.05,"q":8.05},{"s":"Kuchl","k":"p","t":0.15,"q":7.5},{"s":"Kuchl","k":"p","t":0.3,"q":3.8},{"s":"Kuchl","k":"p","t":0.4,"q":6.65},
{"s":"Kuchl","k":"p","t":0.5,"q":5.55},{"s":"Kuchl","k":"p","t":0.6,"q":5.15},{"s":"Kuchl","k":"p","t":0.65,"q":5.75},{"s":"Kuchl","k":"p","t":0.75,"q":8.25},{"s":"Kuchl","k":"p","t":0.8,"q":6.45},{"s":"Kuchl","k":"p","t":0.9,"q":5.4},{"s":"Kuchl","k":"p","t":1.0,"q":5.25},{"s":"Kuchl","k":"p","t":1.15,"q":6.65},{"s":"Kuchl","k":"p","t":1.25,"q":8.8},{"s":"Kuchl","k":"p","t":1.35,"q":5.95},
{"s":"Kuchl","k":"p","t":1.45,"q":7.95},{"s":"Kuchl","k":"p","t":1.55,"q":7.4},{"s":"Kuchl","k":"p","t":1.65,"q":8.45},{"s":"Kuchl","k":"p","t":1.7,"q":7.7},{"s":"Kuchl","k":"p","t":1.85,"q":5.95},{"s":"Kuchl","k":"p","t":2.0,"q":8.5},{"s":"Kuchl","k":"p","t":1.9,"q":5.75},{"s":"Kuchl","k":"p","t":2.45,"q":4.85},{"s":"Kuchl","k":"p","t":2.65,"q":5.65},{"s":"Kuchl","k":"p","t":2.75,"q":8.1},
{"s":"Kuchl","k":"p","t":2.9,"q":8.9},{"s":"Kuchl","k":"p","t":2.95,"q":7.05},{"s":"Kuchl","k":"p","t":3.05,"q":4.6},{"s":"Kuchl","k":"p","t":3.1,"q":7.8},{"s":"Kuchl","k":"p","t":3.2,"q":6.3},{"s":"Kuchl","k":"p","t":3.3,"q":9.1},{"s":"Kuchl","k":"p","t":3.4,"q":6.8},{"s":"Kuchl","k":"p","t":3.45,"q":5.65},{"s":"Kuchl","k":"p","t":3.5,"q":6.15},{"s":"Kuchl","k":"p","t":3.6,"q":7.3},
{"s":"Kuchl","k":"p","t":3.7,"q":5.25},{"s":"Kuchl","k":"p","t":3.75,"q":5.95},{"s":"Kuchl","k":"p","t":3.8,"q":6.65},{"s":"Kuchl","k":"p","t":3.9,"q":5.0},{"s":"Kuchl","k":"p","t":4.0,"q":6.45},{"s":"Kuchl","k":"p","t":4.0,"q":7.85},{"s":"Kuchl","k":"p","t":4.1,"q":3.35},{"s":"Kuchl","k":"p","t":4.15,"q":5.75},{"s":"Kuchl","k":"p","t":4.25,"q":4.9},{"s":"Kuchl","k":"p","t":4.35,"q":7.15},
{"s":"Kuchl","k":"p","t":4.5,"q":5.75},{"s":"Kuchl","k":"p","t":4.65,"q":5.5},{"s":"Kuchl","k":"p","t":4.7,"q":6.1},{"s":"Kuchl","k":"p","t":4.85,"q":4.85},{"s":"Kuchl","k":"p","t":5.0,"q":8.35},{"s":"Kuchl","k":"p","t":5.0,"q":3.35},{"s":"Kuchl","k":"p","t":5.15,"q":7.5},{"s":"Kuchl","k":"p","t":5.3,"q":5.65},{"s":"Kuchl","k":"p","t":5.5,"q":5.15},{"s":"Kuchl","k":"p","t":5.65,"q":6.3},
{"s":"Kuchl","k":"p","t":6.05,"q":3.05},{"s":"Kuchl","k":"p","t":6.1,"q":5.0},{"s":"Kuchl","k":"p","t":6.2,"q":5.8},{"s":"Kuchl","k":"p","t":6.25,"q":4.2},{"s":"Kuchl","k":"p","t":6.3,"q":3.15},{"s":"Kuchl","k":"p","t":6.5,"q":5.5},{"s":"Kuchl","k":"p","t":6.55,"q":5.0},{"s":"Kuchl","k":"p","t":6.6,"q":3.15},{"s":"Kuchl","k":"p","t":6.65,"q":4.7},{"s":"Kuchl","k":"p","t":6.8,"q":5.95},
{"s":"Kuchl","k":"p","t":6.95,"q":5.1},{"s":"Kuchl","k":"p","t":7.15,"q":7.5},{"s":"Kuchl","k":"p","t":7.15,"q":4.45},{"s":"Kuchl","k":"p","t":7.25,"q":2.7},{"s":"Kuchl","k":"p","t":7.25,"q":5.8},{"s":"Kuchl","k":"p","t":7.3,"q":3.15},{"s":"Kuchl","k":"p","t":7.5,"q":2.95},{"s":"Kuchl","k":"p","t":7.65,"q":6.45},{"s":"Kuchl","k":"p","t":7.8,"q":5.0},{"s":"Kuchl","k":"p","t":8.0,"q":4.5},
{"s":"Kuchl","k":"p","t":8.05,"q":3.55},{"s":"Kuchl","k":"p","t":8.15,"q":3.2},{"s":"Kuchl","k":"p","t":8.65,"q":2.9},{"s":"Kuchl","k":"p","t":8.7,"q":2.7},{"s":"Kuchl","k":"p","t":8.85,"q":3.85},{"s":"Kuchl","k":"p","t":9.35,"q":4.25},{"s":"Kuchl","k":"p","t":9.9,"q":3.85},{"s":"Kuchl","k":"p","t":9.95,"q":1.85},{"s":"Kuchl","k":"p","t":10.35,"q":2.15},{"s":"Kuchl","k":"p","t":10.45,"q":2.4},
{"s":"Kuchl","k":"p","t":10.5,"q":4.5},{"s":"Kuchl","k":"p","t":10.6,"q":2.7},{"s":"Kuchl","k":"p","t":10.7,"q":1.75},{"s":"Kuchl","k":"p","t":10.9,"q":2.55},{"s":"Kuchl","k":"p","t":11.05,"q":4.25},{"s":"Kuchl","k":"p","t":11.15,"q":3.35},{"s":"Kuchl","k":"p","t":11.65,"q":3.85},{"s":"Kuchl","k":"p","t":12.15,"q":2.2},{"s":"Kuchl","k":"p","t":12.7,"q":1.75},

{"s":"Steyr","k":"p","t":-8.3,"q":11.35},{"s":"Steyr","k":"p","t":-8.05,"q":14.3},{"s":"Steyr","k":"p","t":-6.0,"q":8.85},{"s":"Steyr","k":"p","t":-5.35,"q":6.95},{"s":"Steyr","k":"p","t":-5.3,"q":7.3},{"s":"Steyr","k":"p","t":-5.15,"q":8.1},{"s":"Steyr","k":"p","t":-4.6,"q":8.9},{"s":"Steyr","k":"p","t":-4.4,"q":12.0},{"s":"Steyr","k":"p","t":-4.05,"q":12.0},{"s":"Steyr","k":"p","t":-4.0,"q":7.45},
{"s":"Steyr","k":"p","t":-3.9,"q":10.25},{"s":"Steyr","k":"p","t":-3.6,"q":6.0},{"s":"Steyr","k":"p","t":-3.5,"q":8.45},{"s":"Steyr","k":"p","t":-3.15,"q":5.6},{"s":"Steyr","k":"p","t":-2.7,"q":8.85},{"s":"Steyr","k":"p","t":-2.2,"q":7.8},{"s":"Steyr","k":"p","t":-2.0,"q":8.9},{"s":"Steyr","k":"p","t":-1.85,"q":5.9},{"s":"Steyr","k":"p","t":-1.5,"q":9.25},{"s":"Steyr","k":"p","t":-1.25,"q":10.7},
{"s":"Steyr","k":"p","t":-1.1,"q":8.2},{"s":"Steyr","k":"p","t":-0.75,"q":9.75},{"s":"Steyr","k":"p","t":-0.55,"q":6.8},{"s":"Steyr","k":"p","t":-0.55,"q":3.85},{"s":"Steyr","k":"p","t":-0.55,"q":6.15},{"s":"Steyr","k":"p","t":-0.4,"q":9.25},{"s":"Steyr","k":"p","t":-0.25,"q":9.0},{"s":"Steyr","k":"p","t":-0.15,"q":7.1},{"s":"Steyr","k":"p","t":-0.1,"q":4.65},{"s":"Steyr","k":"p","t":-0.05,"q":4.1},
{"s":"Steyr","k":"p","t":0.1,"q":9.1},{"s":"Steyr","k":"p","t":0.25,"q":8.2},{"s":"Steyr","k":"p","t":0.3,"q":5.65},{"s":"Steyr","k":"p","t":0.45,"q":9.1},{"s":"Steyr","k":"p","t":0.6,"q":8.9},{"s":"Steyr","k":"p","t":0.7,"q":8.6},{"s":"Steyr","k":"p","t":0.8,"q":6.95},{"s":"Steyr","k":"p","t":1.0,"q":8.55},{"s":"Steyr","k":"p","t":1.1,"q":6.15},{"s":"Steyr","k":"p","t":1.25,"q":5.5},
{"s":"Steyr","k":"p","t":1.3,"q":4.0},{"s":"Steyr","k":"p","t":1.45,"q":6.15},{"s":"Steyr","k":"p","t":1.55,"q":2.55},{"s":"Steyr","k":"p","t":1.65,"q":7.3},{"s":"Steyr","k":"p","t":1.65,"q":9.4},{"s":"Steyr","k":"p","t":1.7,"q":6.0},{"s":"Steyr","k":"p","t":1.8,"q":2.2},{"s":"Steyr","k":"p","t":1.85,"q":7.9},{"s":"Steyr","k":"p","t":2.0,"q":8.9},{"s":"Steyr","k":"p","t":2.1,"q":8.55},
{"s":"Steyr","k":"p","t":2.2,"q":5.0},{"s":"Steyr","k":"p","t":2.3,"q":3.35},{"s":"Steyr","k":"p","t":2.3,"q":2.9},{"s":"Steyr","k":"p","t":2.35,"q":9.15},{"s":"Steyr","k":"p","t":2.45,"q":6.65},{"s":"Steyr","k":"p","t":2.5,"q":7.3},{"s":"Steyr","k":"p","t":2.55,"q":5.5},{"s":"Steyr","k":"p","t":2.65,"q":4.5},{"s":"Steyr","k":"p","t":2.7,"q":6.3},{"s":"Steyr","k":"p","t":2.75,"q":3.65},
{"s":"Steyr","k":"p","t":2.85,"q":8.0},{"s":"Steyr","k":"p","t":2.85,"q":4.65},{"s":"Steyr","k":"p","t":2.95,"q":3.4},{"s":"Steyr","k":"p","t":3.0,"q":6.0},{"s":"Steyr","k":"p","t":3.0,"q":2.8},{"s":"Steyr","k":"p","t":3.15,"q":6.3},{"s":"Steyr","k":"p","t":3.2,"q":6.65},{"s":"Steyr","k":"p","t":3.3,"q":5.8},{"s":"Steyr","k":"p","t":3.35,"q":6.9},{"s":"Steyr","k":"p","t":3.4,"q":6.3},
{"s":"Steyr","k":"p","t":3.5,"q":1.25},{"s":"Steyr","k":"p","t":3.55,"q":6.9},{"s":"Steyr","k":"p","t":3.7,"q":6.65},{"s":"Steyr","k":"p","t":3.8,"q":8.55},{"s":"Steyr","k":"p","t":3.85,"q":6.8},{"s":"Steyr","k":"p","t":4.0,"q":5.4},{"s":"Steyr","k":"p","t":4.05,"q":3.2},{"s":"Steyr","k":"p","t":4.1,"q":3.65},{"s":"Steyr","k":"p","t":4.15,"q":2.9},{"s":"Steyr","k":"p","t":4.25,"q":6.3},
{"s":"Steyr","k":"p","t":4.45,"q":6.3},{"s":"Steyr","k":"p","t":4.55,"q":4.2},{"s":"Steyr","k":"p","t":4.6,"q":7.95},{"s":"Steyr","k":"p","t":4.7,"q":1.4},{"s":"Steyr","k":"p","t":4.7,"q":0.9},{"s":"Steyr","k":"p","t":4.75,"q":4.85},{"s":"Steyr","k":"p","t":4.8,"q":6.65},{"s":"Steyr","k":"p","t":4.9,"q":3.7},{"s":"Steyr","k":"p","t":4.95,"q":4.6},{"s":"Steyr","k":"p","t":5.1,"q":4.0},
{"s":"Steyr","k":"p","t":5.25,"q":1.9},{"s":"Steyr","k":"p","t":5.3,"q":5.25},{"s":"Steyr","k":"p","t":5.45,"q":3.35},{"s":"Steyr","k":"p","t":5.55,"q":3.75},{"s":"Steyr","k":"p","t":5.65,"q":1.4},{"s":"Steyr","k":"p","t":5.7,"q":3.05},{"s":"Steyr","k":"p","t":5.85,"q":4.6},{"s":"Steyr","k":"p","t":5.95,"q":3.05},{"s":"Steyr","k":"p","t":6.05,"q":0.6},{"s":"Steyr","k":"p","t":6.1,"q":3.9},
{"s":"Steyr","k":"p","t":6.15,"q":3.45},{"s":"Steyr","k":"p","t":6.35,"q":0.8},{"s":"Steyr","k":"p","t":6.65,"q":4.5},{"s":"Steyr","k":"p","t":6.75,"q":4.85},{"s":"Steyr","k":"p","t":6.8,"q":3.05},{"s":"Steyr","k":"p","t":6.9,"q":5.2},{"s":"Steyr","k":"p","t":7.0,"q":1.55},{"s":"Steyr","k":"p","t":7.05,"q":3.05},{"s":"Steyr","k":"p","t":7.2,"q":3.05},{"s":"Steyr","k":"p","t":7.35,"q":3.7},
{"s":"Steyr","k":"p","t":7.45,"q":4.35},{"s":"Steyr","k":"p","t":7.5,"q":4.0},{"s":"Steyr","k":"p","t":7.65,"q":1.1},{"s":"Steyr","k":"p","t":7.65,"q":0.6},{"s":"Steyr","k":"p","t":7.8,"q":0.6},{"s":"Steyr","k":"p","t":7.9,"q":2.55},{"s":"Steyr","k":"p","t":8.0,"q":0.35},{"s":"Steyr","k":"p","t":8.2,"q":1.75},{"s":"Steyr","k":"p","t":8.35,"q":2.8},{"s":"Steyr","k":"p","t":8.6,"q":2.05},
{"s":"Steyr","k":"p","t":8.75,"q":1.45},{"s":"Steyr","k":"p","t":8.9,"q":1.25},{"s":"Steyr","k":"p","t":9.2,"q":5.5},{"s":"Steyr","k":"p","t":9.45,"q":0.9},{"s":"Steyr","k":"p","t":9.5,"q":1.1},{"s":"Steyr","k":"p","t":9.7,"q":0.75},{"s":"Steyr","k":"p","t":9.8,"q":2.95},{"s":"Steyr","k":"p","t":9.9,"q":1.35},{"s":"Steyr","k":"p","t":10.15,"q":0.9},{"s":"Steyr","k":"p","t":10.35,"q":1.8},
{"s":"Steyr","k":"p","t":10.55,"q":1.0},{"s":"Steyr","k":"p","t":10.65,"q":5.5},{"s":"Steyr","k":"p","t":11.1,"q":1.65},{"s":"Steyr","k":"p","t":11.2,"q":1.4},{"s":"Steyr","k":"p","t":12.4,"q":1.0},{"s":"Steyr","k":"p","t":13.25,"q":2.7},

{"s":"Luzern","k":"p","t":-2.55,"q":5.65},{"s":"Luzern","k":"p","t":-2.0,"q":5.85},{"s":"Luzern","k":"p","t":-1.75,"q":5.5},{"s":"Luzern","k":"p","t":0.15,"q":6.4},{"s":"Luzern","k":"p","t":0.15,"q":5.5},{"s":"Luzern","k":"p","t":0.65,"q":6.0},{"s":"Luzern","k":"p","t":0.8,"q":5.75},{"s":"Luzern","k":"p","t":1.0,"q":5.1},{"s":"Luzern","k":"p","t":1.2,"q":4.85},{"s":"Luzern","k":"p","t":1.25,"q":5.6},
{"s":"Luzern","k":"p","t":1.35,"q":6.4},{"s":"Luzern","k":"p","t":1.5,"q":6.6},{"s":"Luzern","k":"p","t":1.55,"q":4.7},{"s":"Luzern","k":"p","t":1.65,"q":6.7},{"s":"Luzern","k":"p","t":1.7,"q":4.75},{"s":"Luzern","k":"p","t":1.9,"q":4.7},{"s":"Luzern","k":"p","t":2.05,"q":5.5},{"s":"Luzern","k":"p","t":2.1,"q":4.85},{"s":"Luzern","k":"p","t":2.25,"q":3.75},{"s":"Luzern","k":"p","t":2.25,"q":5.75},
{"s":"Luzern","k":"p","t":2.35,"q":6.7},{"s":"Luzern","k":"p","t":2.45,"q":6.35},{"s":"Luzern","k":"p","t":2.45,"q":5.5},{"s":"Luzern","k":"p","t":2.55,"q":4.65},{"s":"Luzern","k":"p","t":2.65,"q":6.5},{"s":"Luzern","k":"p","t":2.75,"q":6.0},{"s":"Luzern","k":"p","t":3.1,"q":7.4},{"s":"Luzern","k":"p","t":3.1,"q":5.6},{"s":"Luzern","k":"p","t":3.2,"q":3.85},{"s":"Luzern","k":"p","t":3.25,"q":4.75},
{"s":"Luzern","k":"p","t":3.35,"q":6.65},{"s":"Luzern","k":"p","t":3.5,"q":4.95},{"s":"Luzern","k":"p","t":3.7,"q":5.0},{"s":"Luzern","k":"p","t":3.8,"q":5.6},{"s":"Luzern","k":"p","t":3.9,"q":6.65},{"s":"Luzern","k":"p","t":4.0,"q":5.35},{"s":"Luzern","k":"p","t":4.0,"q":5.2},{"s":"Luzern","k":"p","t":4.1,"q":5.5},{"s":"Luzern","k":"p","t":4.15,"q":2.05},{"s":"Luzern","k":"p","t":4.25,"q":5.95},
{"s":"Luzern","k":"p","t":4.3,"q":4.5},{"s":"Luzern","k":"p","t":4.35,"q":5.65},{"s":"Luzern","k":"p","t":4.45,"q":6.4},{"s":"Luzern","k":"p","t":4.5,"q":5.2},{"s":"Luzern","k":"p","t":4.7,"q":4.85},{"s":"Luzern","k":"p","t":4.85,"q":5.8},{"s":"Luzern","k":"p","t":4.9,"q":4.2},{"s":"Luzern","k":"p","t":5.0,"q":3.55},{"s":"Luzern","k":"p","t":5.1,"q":2.8},{"s":"Luzern","k":"p","t":5.15,"q":5.35},
{"s":"Luzern","k":"p","t":5.3,"q":5.1},{"s":"Luzern","k":"p","t":5.4,"q":4.0},{"s":"Luzern","k":"p","t":5.5,"q":2.45},{"s":"Luzern","k":"p","t":5.55,"q":6.5},{"s":"Luzern","k":"p","t":5.65,"q":4.2},{"s":"Luzern","k":"p","t":5.7,"q":5.8},{"s":"Luzern","k":"p","t":5.75,"q":1.35},{"s":"Luzern","k":"p","t":5.75,"q":3.7},{"s":"Luzern","k":"p","t":5.85,"q":6.5},{"s":"Luzern","k":"p","t":5.9,"q":4.75},
{"s":"Luzern","k":"p","t":5.95,"q":3.05},{"s":"Luzern","k":"p","t":6.05,"q":4.3},{"s":"Luzern","k":"p","t":6.1,"q":5.25},{"s":"Luzern","k":"p","t":6.2,"q":3.55},{"s":"Luzern","k":"p","t":6.25,"q":4.7},{"s":"Luzern","k":"p","t":6.4,"q":6.0},{"s":"Luzern","k":"p","t":6.5,"q":3.6},{"s":"Luzern","k":"p","t":6.6,"q":5.2},{"s":"Luzern","k":"p","t":6.7,"q":2.55},{"s":"Luzern","k":"p","t":6.75,"q":4.5},
{"s":"Luzern","k":"p","t":6.8,"q":2.7},{"s":"Luzern","k":"p","t":6.85,"q":1.35},{"s":"Luzern","k":"p","t":6.85,"q":5.85},{"s":"Luzern","k":"p","t":6.95,"q":3.7},{"s":"Luzern","k":"p","t":7.05,"q":5.3},{"s":"Luzern","k":"p","t":7.1,"q":2.4},{"s":"Luzern","k":"p","t":7.15,"q":4.05},{"s":"Luzern","k":"p","t":7.25,"q":1.75},{"s":"Luzern","k":"p","t":7.35,"q":3.4},{"s":"Luzern","k":"p","t":7.4,"q":2.15},
{"s":"Luzern","k":"p","t":7.45,"q":4.75},{"s":"Luzern","k":"p","t":7.5,"q":2.9},{"s":"Luzern","k":"p","t":7.6,"q":3.75},{"s":"Luzern","k":"p","t":7.65,"q":3.2},{"s":"Luzern","k":"p","t":7.8,"q":4.05},{"s":"Luzern","k":"p","t":7.9,"q":2.7},{"s":"Luzern","k":"p","t":7.95,"q":3.55},{"s":"Luzern","k":"p","t":8.1,"q":1.8},{"s":"Luzern","k":"p","t":8.8,"q":2.7},{"s":"Luzern","k":"p","t":9.1,"q":3.05},
{"s":"Luzern","k":"p","t":9.15,"q":1.1},{"s":"Luzern","k":"p","t":9.5,"q":1.55},{"s":"Luzern","k":"p","t":9.55,"q":3.75},{"s":"Luzern","k":"p","t":9.7,"q":0.9},{"s":"Luzern","k":"p","t":9.9,"q":1.0},{"s":"Luzern","k":"p","t":10.4,"q":3.0},{"s":"Luzern","k":"p","t":10.5,"q":1.1},{"s":"Luzern","k":"p","t":10.6,"q":1.75},{"s":"Luzern","k":"p","t":10.7,"q":0.6},{"s":"Luzern","k":"p","t":10.75,"q":1.45},
{"s":"Luzern","k":"p","t":10.9,"q":0.1},{"s":"Luzern","k":"p","t":11.1,"q":0.9},{"s":"Luzern","k":"p","t":11.2,"q":0.6},{"s":"Luzern","k":"p","t":11.3,"q":1.75},{"s":"Luzern","k":"p","t":11.45,"q":2.7},{"s":"Luzern","k":"p","t":11.55,"q":0.8},{"s":"Luzern","k":"p","t":11.65,"q":2.45},{"s":"Luzern","k":"p","t":11.8,"q":1.35},{"s":"Luzern","k":"p","t":11.85,"q":0.75},{"s":"Luzern","k":"p","t":11.9,"q":1.15},
{"s":"Luzern","k":"p","t":12.0,"q":0.1},{"s":"Luzern","k":"p","t":12.15,"q":0.5},{"s":"Luzern","k":"p","t":12.35,"q":2.15},{"s":"Luzern","k":"p","t":12.55,"q":0.6},{"s":"Luzern","k":"p","t":12.75,"q":0.1},{"s":"Luzern","k":"p","t":12.9,"q":0.35},{"s":"Luzern","k":"p","t":13.15,"q":0.45},{"s":"Luzern","k":"p","t":13.85,"q":0.1},{"s":"Luzern","k":"p","t":14.1,"q":0.1},{"s":"Luzern","k":"p","t":14.4,"q":0.25},
{"s":"Luzern","k":"p","t":14.7,"q":0.35},{"s":"Luzern","k":"p","t":14.95,"q":0.1},{"s":"Luzern","k":"p","t":15.25,"q":0.45},{"s":"Luzern","k":"p","t":15.65,"q":0.1},{"s":"Luzern","k":"p","t":16.75,"q":0.35},{"s":"Luzern","k":"p","t":17.3,"q":0.1},{"s":"Luzern","k":"p","t":17.75,"q":1.1},{"s":"Luzern","k":"p","t":18.05,"q":0.1},{"s":"Luzern","k":"p","t":19.0,"q":0.1}
]
},
"spacing": 12,
"vconcat": [
{
  "data": {"name": "d"},
  "transform": [{"lookup": "s", "from": {"data": {"name": "grid"}, "key": "s", "fields": ["r", "c"]}}],
  "facet": {
    "row": {"field": "r", "type": "ordinal", "header": {"labels": false, "title": null, "labelPadding": 0}},
    "column": {"field": "c", "type": "ordinal", "header": {"labels": false, "title": null, "labelPadding": 0}}
  },
  "spacing": {"row": 30, "column": 24},
  "resolve": {"scale": {"y": "independent"}, "axis": {"x": "independent", "y": "independent"}},
  "spec": {
    "width": 356, "height": 163,
    "layer": [
      {"transform": [{"filter": "datum.k=='d'"}], "mark": {"type": "point", "opacity": 0},
       "encoding": {
         "x": {"field": "t", "type": "quantitative", "scale": {"domain": [-10, 20]}, "axis": {"values": [-10,-5,0,5,10,15,20], "title": "Tagesmittlere Außentemperatur [°C]"}},
         "y": {"field": "q", "type": "quantitative", "scale": {"nice": false, "zero": true}, "axis": {"title": "Tagesmittlere Heizleistung [W/m²]"}}}},
      {"transform": [{"filter": "datum.k=='g'"}], "mark": {"type": "rule", "color": "#9b9b9b", "strokeWidth": 3.5},
       "encoding": {"y": {"field": "q", "type": "quantitative"}}},
      {"transform": [{"filter": "datum.k=='r'"}], "mark": {"type": "line", "color": "#1a1a1a", "strokeWidth": 1.2},
       "encoding": {"x": {"field": "t", "type": "quantitative", "scale": {"domain": [-10, 20]}}, "y": {"field": "q", "type": "quantitative"}}},
      {"transform": [{"filter": "datum.k=='h'"}], "mark": {"type": "rule", "color": "#2d2d2d", "strokeWidth": 5},
       "encoding": {"x": {"field": "t", "type": "quantitative", "scale": {"domain": [-10, 20]}}, "x2": {"field": "t2"}, "y": {"field": "q", "type": "quantitative"}}},
      {"transform": [{"filter": "datum.k=='h'"}], "mark": {"type": "rule", "color": "#9a9a9a", "strokeWidth": 1.5, "strokeDash": [5, 3]},
       "encoding": {"x": {"field": "t", "type": "quantitative", "scale": {"domain": [-10, 20]}}, "x2": {"field": "t2"}, "y": {"field": "q", "type": "quantitative"}}},
      {"transform": [{"filter": "datum.k=='p'"}], "mark": {"type": "point", "filled": true, "color": "#000", "size": 16, "opacity": 1},
       "encoding": {"x": {"field": "t", "type": "quantitative", "scale": {"domain": [-10, 20]}}, "y": {"field": "q", "type": "quantitative"}}},
      {"transform": [{"filter": "datum.k=='l'"}], "mark": {"type": "text", "align": "left", "baseline": "alphabetic", "fontSize": 35, "fontWeight": "bold", "color": "#262626"},
       "encoding": {"x": {"field": "t", "type": "quantitative", "scale": {"domain": [-10, 20]}}, "y": {"field": "q", "type": "quantitative"}, "text": {"field": "n"}}},
      {"transform": [{"filter": "datum.k=='f'"}], "mark": {"type": "text", "align": "center", "baseline": "middle", "fontSize": 115, "dy": -19, "font": "Liberation Serif", "fontStyle": "italic", "fontWeight": "bold", "color": "#1a1a1a"},
       "encoding": {"x": {"field": "t", "type": "quantitative", "scale": {"domain": [-10, 20]}}, "y": {"field": "q", "type": "quantitative"}, "text": {"field": "n"}}},
      {"transform": [{"filter": "datum.k=='c'"}], "mark": {"type": "text", "align": "center", "baseline": "middle", "fontSize": 20, "dy": -35, "font": "DejaVu Sans", "color": "#222"},
       "encoding": {"x": {"field": "t", "type": "quantitative", "scale": {"domain": [-10, 20]}}, "y": {"field": "q", "type": "quantitative"}, "text": {"field": "n"}}}
    ]
  }
},
{
  "width": 780, "height": 90,
  "data": {"name": "leg"},
  "layer": [
    {"transform": [{"filter": "datum.k=='h'"}], "mark": {"type": "rule", "color": "#2d2d2d", "strokeWidth": 5},
     "encoding": {"x": {"field": "x", "type": "quantitative", "scale": {"domain": [0, 100]}, "axis": null}, "x2": {"field": "x2"}, "y": {"field": "y", "type": "quantitative", "scale": {"domain": [0, 90]}, "axis": null}}},
    {"transform": [{"filter": "datum.k=='h'"}], "mark": {"type": "rule", "color": "#9a9a9a", "strokeWidth": 1.5, "strokeDash": [5, 3]},
     "encoding": {"x": {"field": "x", "type": "quantitative", "scale": {"domain": [0, 100]}, "axis": null}, "x2": {"field": "x2"}, "y": {"field": "y", "type": "quantitative", "scale": {"domain": [0, 90]}, "axis": null}}},
    {"transform": [{"filter": "datum.k=='g'"}], "mark": {"type": "rule", "color": "#9b9b9b", "strokeWidth": 4},
     "encoding": {"x": {"field": "x", "type": "quantitative", "scale": {"domain": [0, 100]}, "axis": null}, "x2": {"field": "x2"}, "y": {"field": "y", "type": "quantitative", "scale": {"domain": [0, 90]}, "axis": null}}},
    {"transform": [{"filter": "datum.k=='p'"}], "mark": {"type": "point", "filled": true, "color": "#000", "size": 110, "opacity": 1},
     "encoding": {"x": {"field": "x", "type": "quantitative", "scale": {"domain": [0, 100]}, "axis": null}, "y": {"field": "y", "type": "quantitative", "scale": {"domain": [0, 90]}, "axis": null}}},
    {"transform": [{"filter": "datum.k=='t'"}], "mark": {"type": "text", "align": "left", "baseline": "alphabetic", "fontSize": 27, "fontWeight": "bold", "color": "#1e1e1e"},
     "encoding": {"x": {"field": "x", "type": "quantitative", "scale": {"domain": [0, 100]}, "axis": null}, "y": {"field": "y", "type": "quantitative", "scale": {"domain": [0, 90]}, "axis": null}, "text": {"field": "n"}}}
  ]
}
]
}
